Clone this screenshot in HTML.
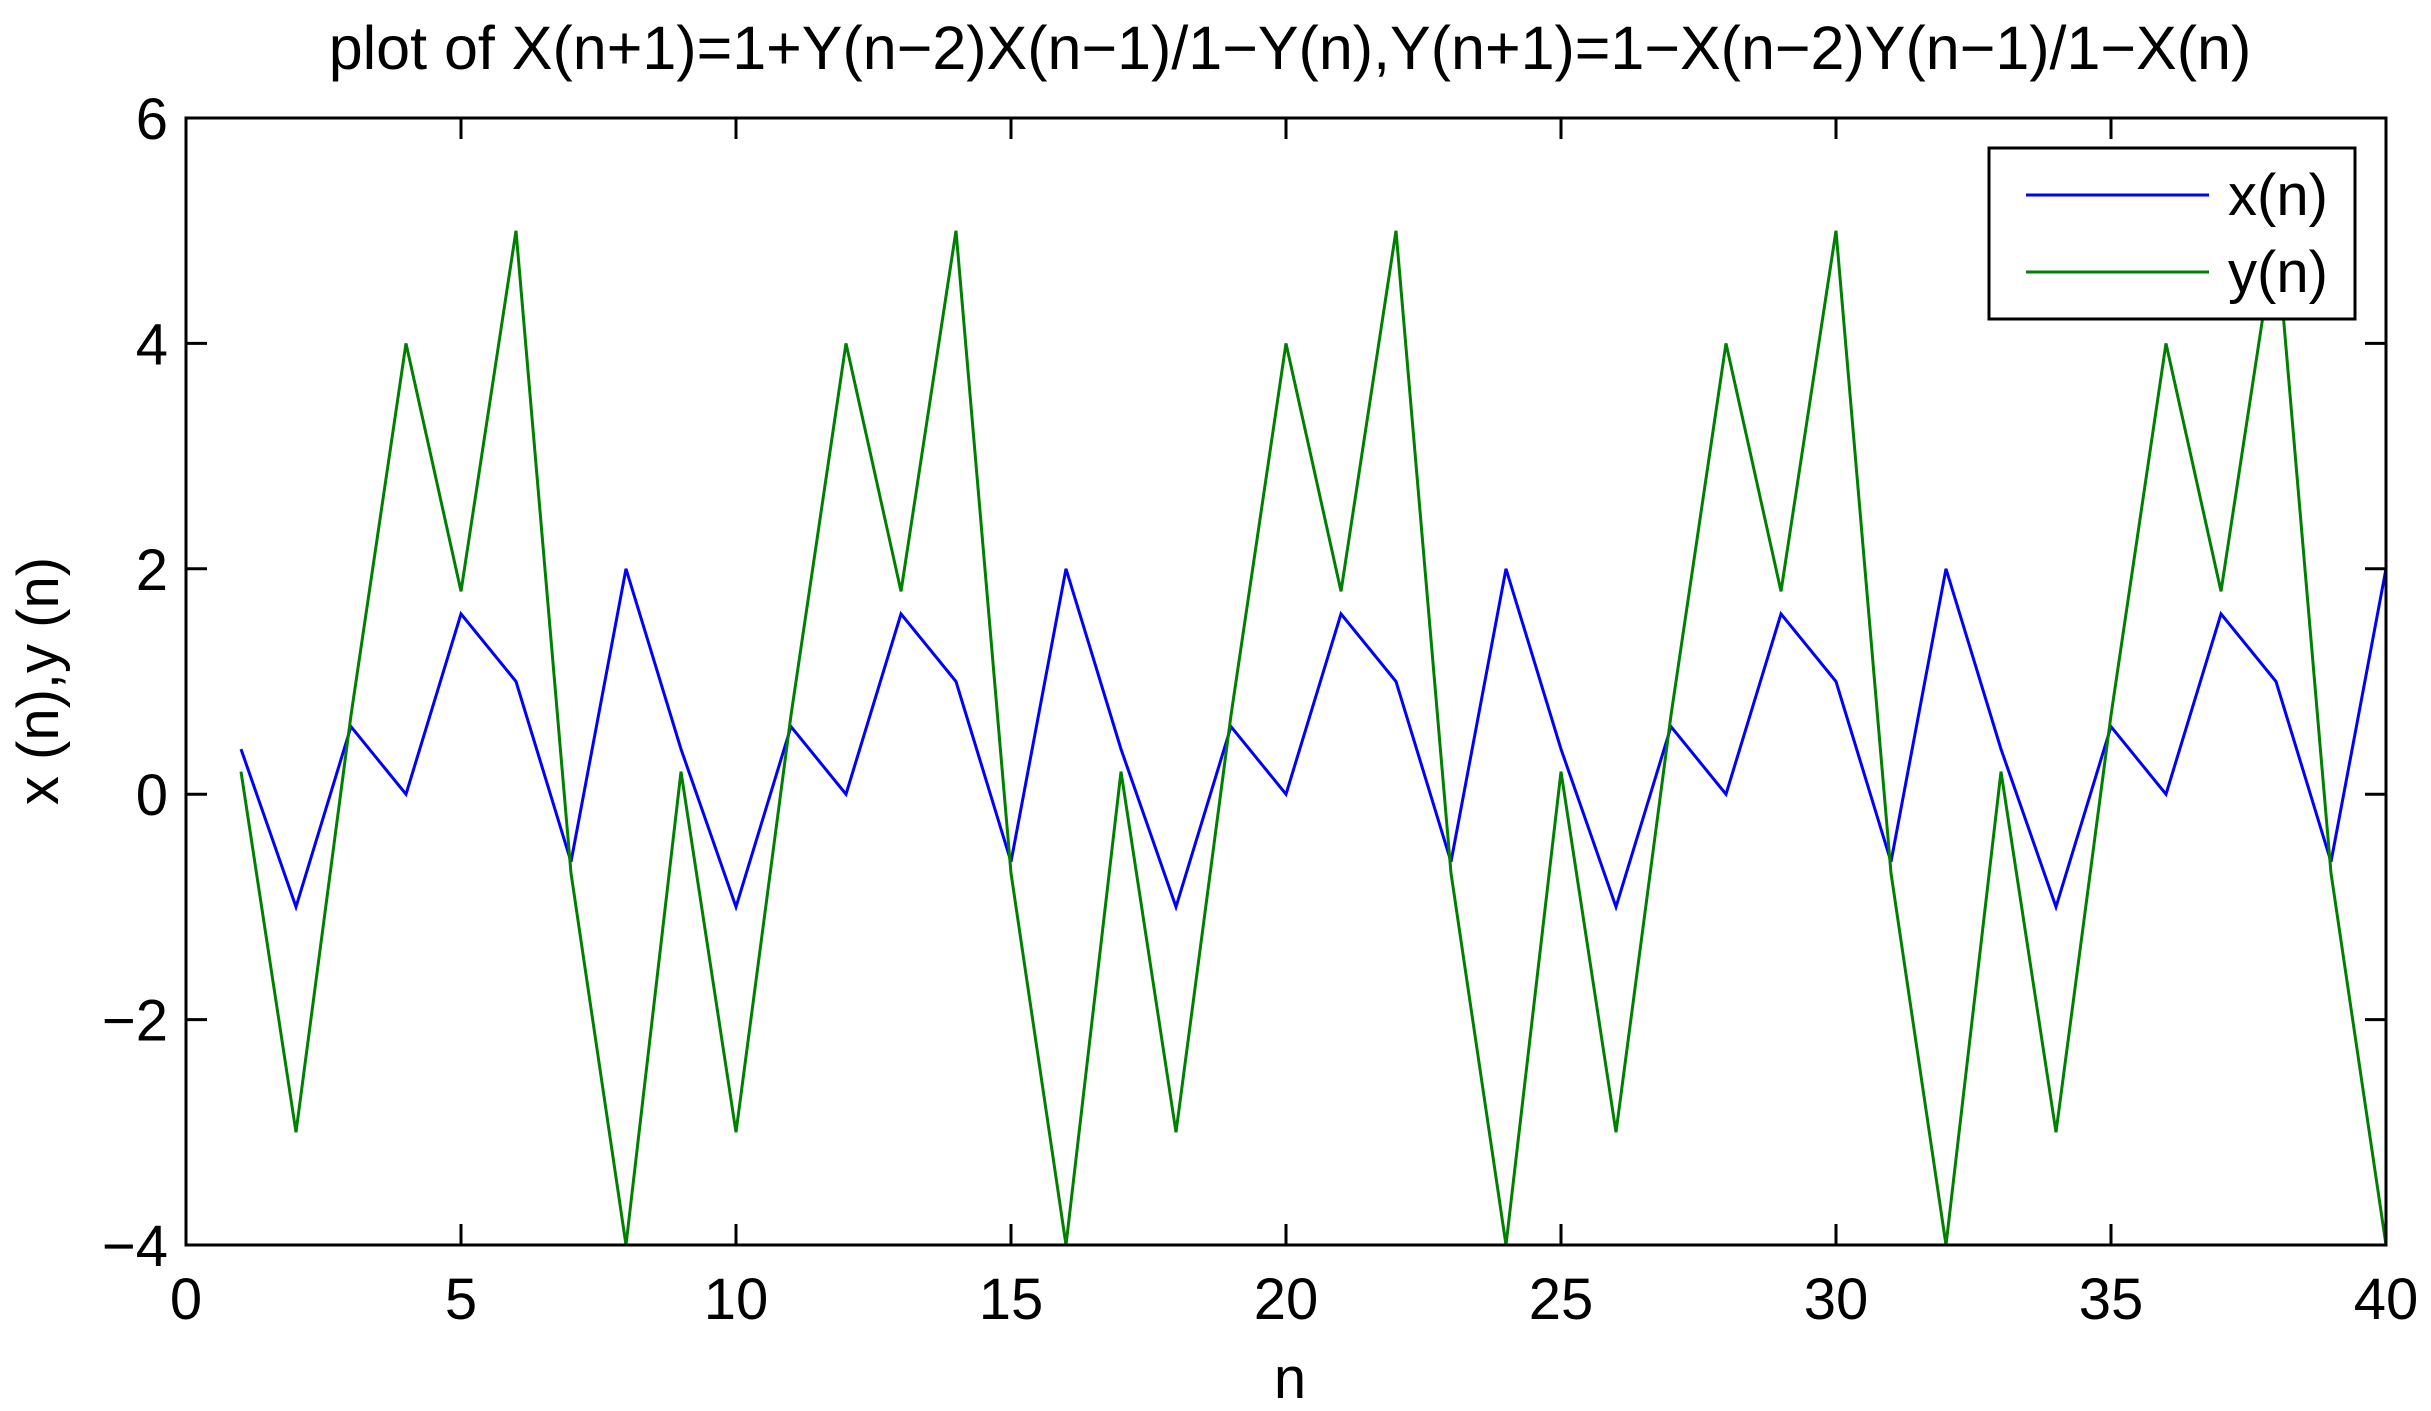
<!DOCTYPE html>
<html><head><meta charset="utf-8"><style>
html,body{margin:0;padding:0;background:#fff;}
svg{display:block;font-family:"Liberation Sans",sans-serif;}
</style></head><body>
<svg id="chart" width="2431" height="1411" viewBox="0 0 2431 1411" xmlns="http://www.w3.org/2000/svg">
<rect width="2431" height="1411" fill="#fff"/>
<text x="1290" y="69" font-size="61" text-anchor="middle">plot of X(n+1)=1+Y(n−2)X(n−1)/1−Y(n),Y(n+1)=1−X(n−2)Y(n−1)/1−X(n)</text>
<g id="grid"></g>
<g id="series"></g>
<rect x="186" y="118" width="2200" height="1127" fill="none" stroke="#000" stroke-width="3"/>
<g id="ticks"></g>
<text x="1290" y="1398" font-size="58" text-anchor="middle">n</text>
<text transform="translate(58,681) rotate(-90)" font-size="58" text-anchor="middle">x (n),y (n)</text>
<g>
<rect x="1989" y="148" width="366" height="171" fill="#fff" stroke="#000" stroke-width="3"/>
<line x1="2026" y1="195" x2="2209" y2="195" stroke="#0000ff" stroke-width="3"/>
<text x="2228" y="215" font-size="58">x(n)</text>
<line x1="2026" y1="272" x2="2209" y2="272" stroke="#008000" stroke-width="3"/>
<text x="2228" y="292" font-size="58">y(n)</text>
</g>
</svg>
<script>
const nValues = [1,2,3,4,5,6,7,8,9,10,11,12,13,14,15,16,17,18,19,20,21,22,23,24,25,26,27,28,29,30,31,32,33,34,35,36,37,38,39,40];
const xSeries = [0.4,-1,0.6,0,1.6,1,-0.6,2, 0.4,-1,0.6,0,1.6,1,-0.6,2, 0.4,-1,0.6,0,1.6,1,-0.6,2, 0.4,-1,0.6,0,1.6,1,-0.6,2, 0.4,-1,0.6,0,1.6,1,-0.6,2];
const ySeries = [0.2,-3,0.7,4,1.8,5,-0.7,-4, 0.2,-3,0.7,4,1.8,5,-0.7,-4, 0.2,-3,0.7,4,1.8,5,-0.7,-4, 0.2,-3,0.7,4,1.8,5,-0.7,-4, 0.2,-3,0.7,4,1.8,5,-0.7,-4];
const xTicks = [0,5,10,15,20,25,30,35,40];
const yTicks = [-4,-2,0,2,4,6];
const yTickLabels = ["−4","−2","0","2","4","6"];

const L=186,R=2386,T=118,B=1245;
function sx(v){return L+(v-0)/(40-0)*(R-L);}
function sy(v){return B-(v-(-4))/(6-(-4))*(B-T);}
const NS="http://www.w3.org/2000/svg";
const series=document.getElementById('series');
function drawLine(vals,color,name){
  const p=document.createElementNS(NS,'polyline');
  p.setAttribute('points',vals.map((v,i)=>sx(nValues[i])+','+sy(v)).join(' '));
  p.setAttribute('fill','none');p.setAttribute('stroke',color);p.setAttribute('stroke-width','3');
  
  
  series.appendChild(p);
}
drawLine(xSeries,'#0000ff','series-x-line');
drawLine(ySeries,'#008000','series-y-line');
const ticks=document.getElementById('ticks');
function mk(tag,attrs){const e=document.createElementNS(NS,tag);for(const k in attrs)e.setAttribute(k,attrs[k]);ticks.appendChild(e);return e;}
xTicks.forEach(t=>{
  const x=sx(t);
  const a=mk('line',{x1:x,y1:B,x2:x,y2:B-21,stroke:'#000','stroke-width':3});
  
  
  const b=mk('line',{x1:x,y1:T,x2:x,y2:T+21,stroke:'#000','stroke-width':3});
  
  
  const tx=mk('text',{x:x,y:1319,'font-size':58,'text-anchor':'middle'});
  tx.textContent=t;
  
  
});
yTicks.forEach((t,i)=>{
  const y=sy(t);
  const a=mk('line',{x1:L,y1:y,x2:L+21,y2:y,stroke:'#000','stroke-width':3});
  
  
  const b=mk('line',{x1:R,y1:y,x2:R-21,y2:y,stroke:'#000','stroke-width':3});
  
  
  const tx=mk('text',{x:168,y:y+21,'font-size':58,'text-anchor':'end'});
  tx.textContent=yTickLabels[i];
  
  
});
</script>
</body></html>
